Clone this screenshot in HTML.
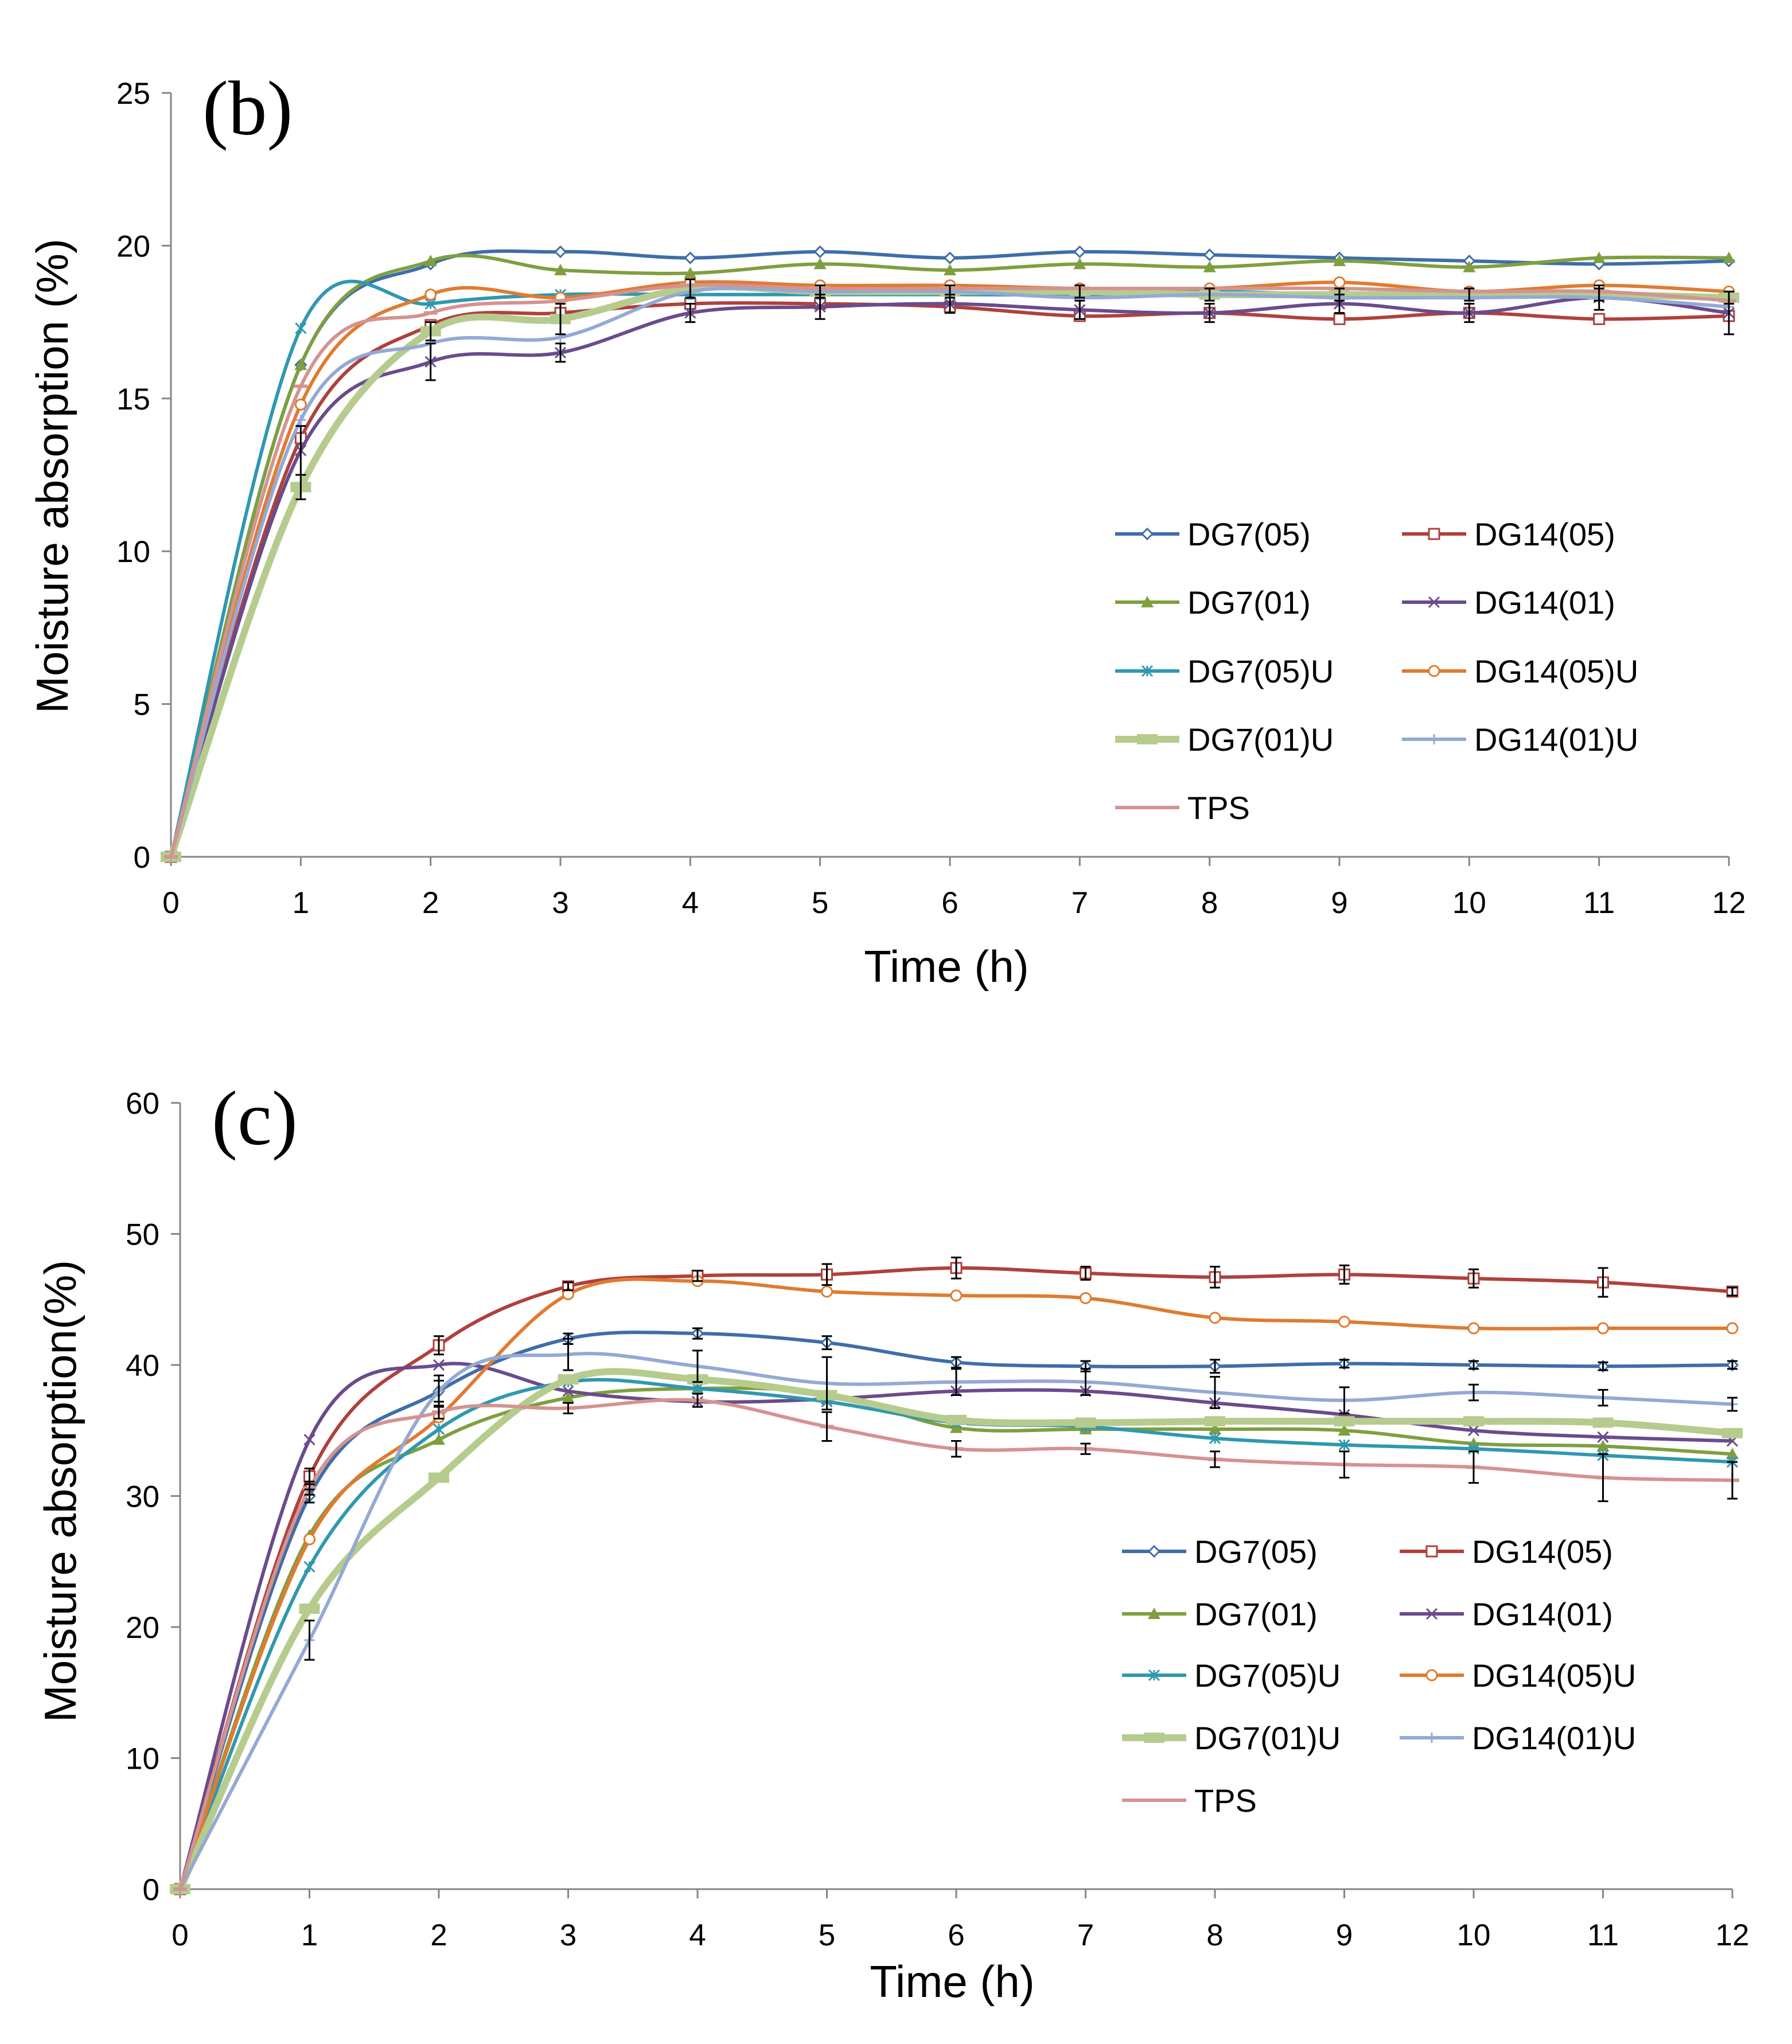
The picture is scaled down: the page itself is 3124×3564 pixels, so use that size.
<!DOCTYPE html>
<html><head><meta charset="utf-8"><style>
html,body{margin:0;padding:0;background:#fff;}
svg{display:block;font-family:"Liberation Sans",sans-serif;}
</style></head><body>
<svg id="chart" xmlns="http://www.w3.org/2000/svg" width="3124" height="3564" viewBox="0 0 3124 3564"></svg>
<script>
const hours = [0,1,2,3,4,5,6,7,8,9,10,11,12];
const seriesNames = ["DG7(05)","DG14(05)","DG7(01)","DG14(01)","DG7(05)U","DG14(05)U","DG7(01)U","DG14(01)U","TPS"];
const bDG705 = [0,16.1,19.4,19.8,19.6,19.8,19.6,19.8,19.7,19.6,19.5,19.4,19.5];
const bDG1405 = [0,13.7,17.4,17.8,18.1,18.1,18.0,17.7,17.8,17.6,17.8,17.6,17.7];
const bDG701 = [0,16.1,19.5,19.2,19.1,19.4,19.2,19.4,19.3,19.5,19.3,19.6,19.6];
const bDG1401 = [0,13.3,16.2,16.5,17.8,18.0,18.1,17.9,17.8,18.1,17.8,18.3,17.8];
const bDG705U = [0,17.3,18.1,18.4,18.4,18.4,18.4,18.4,18.5,18.4,18.4,18.4,18.3];
const bDG1405U = [0,14.8,18.4,18.3,18.8,18.7,18.7,18.6,18.6,18.8,18.5,18.7,18.5];
const bDG701U = [0,12.1,17.2,17.6,18.6,18.5,18.5,18.5,18.4,18.4,18.4,18.4,18.3];
const bDG1401U = [0,14.3,16.8,17.0,18.5,18.5,18.5,18.3,18.4,18.3,18.3,18.3,18.0];
const bTPS = [0,15.4,17.8,18.2,18.7,18.6,18.6,18.6,18.6,18.6,18.5,18.5,18.2];
const cDG705 = [0,30,38,42,42.4,41.7,40.2,39.9,39.9,40.1,40,39.9,40];
const cDG1405 = [0,31.5,41.5,46,46.8,46.9,47.4,47,46.7,46.9,46.6,46.3,45.6];
const cDG701 = [0,27,34.3,37.5,38.2,37.8,35.2,35.1,35.1,35,34,33.8,33.2];
const cDG1401 = [0,34.3,40,38,37.2,37.4,38,38,37.1,36.2,35,34.5,34.2];
const cDG705U = [0,24.6,35.1,38.7,38.2,37.2,35.6,35.3,34.4,33.9,33.6,33.1,32.6];
const cDG1405U = [0,26.7,36,45.4,46.4,45.6,45.3,45.1,43.6,43.3,42.8,42.8,42.8];
const cDG701U = [0,21.4,31.4,38.9,38.9,37.7,35.8,35.6,35.7,35.7,35.7,35.6,34.8];
const cDG1401U = [0,19,38,40.8,39.9,38.6,38.7,38.7,37.9,37.3,37.9,37.5,37];
const cTPS = [0,30.6,36.4,36.7,37.3,35.3,33.6,33.6,32.8,32.4,32.2,31.4,31.2];
// error magnitudes (±) for selected series
const bErrDG1401 = [0,0.8,0.6,0.3,0.3,0.4,0.3,0.3,0.3,0.3,0.3,0.4,0.7];
const bErrDG701U = [0,0.4,0.3,0.5,0.3,0.2,0.2,0.2,0.2,0.2,0.2,0.2,0.2];
const cErrDG1405 = [0,0.6,0.7,0.3,0.4,0.8,0.8,0.5,0.8,0.7,0.7,1.1,0.3];
const cErrDG705 = [0,0.5,0.8,0.4,0.4,0.5,0.4,0.4,0.5,0.3,0.3,0.3,0.3];
const cErrDG1401U = [0,1.5,1.2,1.2,1.2,2.0,1.0,1.0,1.2,1.0,0.6,0.6,0.5];
const cErrTPS = [0,0.5,0.5,0.4,0.5,1.1,0.6,0.4,0.6,1.0,1.2,1.8,1.4];
const bTicks = [0,5,10,15,20,25];
const cTicks = [0,10,20,30,40,50,60];

const colors = ["#3f6ea8","#b0403c","#7f9f3f","#6a4b8c","#2f98b0","#e07b30","#b5cc8e","#94a9d4","#d49390"];
const markers = ["diamond","square","triangle","x","star","circle","bar","plus","dash"];
const widths = [6,6,6,6,6,6,12,6,6];
const NS="http://www.w3.org/2000/svg";
const svg=document.getElementById('chart');
function el(tag,attrs,parent){const e=document.createElementNS(NS,tag);for(const k in attrs)e.setAttribute(k,attrs[k]);(parent||svg).appendChild(e);return e;}

function smoothPath(pts){
  let d=`M${pts[0][0]},${pts[0][1]}`;
  for(let i=0;i<pts.length-1;i++){
    const p0=pts[Math.max(0,i-1)],p1=pts[i],p2=pts[i+1],p3=pts[Math.min(pts.length-1,i+2)];
    const t=1/6;
    const c1=[p1[0]+(p2[0]-p0[0])*t,p1[1]+(p2[1]-p0[1])*t];
    const c2=[p2[0]-(p3[0]-p1[0])*t,p2[1]-(p3[1]-p1[1])*t];
    d+=` C${c1[0]},${c1[1]} ${c2[0]},${c2[1]} ${p2[0]},${p2[1]}`;
  }
  return d;
}
function marker(g,type,x,y,c){
  const s=9;
  let m;
  if(type==="diamond")m=el('polygon',{points:`${x},${y-s} ${x+s},${y} ${x},${y+s} ${x-s},${y}`,fill:"#fff",stroke:c,"stroke-width":3},g);
  else if(type==="square")m=el('rect',{x:x-s,y:y-s,width:2*s,height:2*s,fill:"#fff",stroke:c,"stroke-width":3},g);
  else if(type==="triangle")m=el('polygon',{points:`${x},${y-s-2} ${x+s+2},${y+s} ${x-s-2},${y+s}`,fill:c},g);
  else if(type==="x")m=el('path',{d:`M${x-s},${y-s}L${x+s},${y+s}M${x-s},${y+s}L${x+s},${y-s}`,stroke:c,"stroke-width":3},g);
  else if(type==="star")m=el('path',{d:`M${x-s},${y-s}L${x+s},${y+s}M${x-s},${y+s}L${x+s},${y-s}M${x},${y-s}L${x},${y+s}`,stroke:c,"stroke-width":3},g);
  else if(type==="circle")m=el('circle',{cx:x,cy:y,r:s,fill:"#fff",stroke:c,"stroke-width":3},g);
  else if(type==="bar")m=el('rect',{x:x-18,y:y-9,width:36,height:18,fill:c},g);
  else if(type==="plus")m=el('path',{d:`M${x-s},${y}L${x+s},${y}M${x},${y-s}L${x},${y+s}`,stroke:c,"stroke-width":3},g);
  else m=el('rect',{x:x-12,y:y-3,width:24,height:6,fill:c},g);
  
  
}

function panel(cfg){
  const {x0,x1,y0,y1,ymax,ticks,data,errs,label,ytitle,ytx,yty,xtx,xty,tickY,legX,legRows,pfx}=cfg;
  const sx=v=>x0+(x1-x0)*v/12, sy=v=>y0-(y0-y1)*v/ymax;
  const g=el('g',{});
  const ax=el('g',{},g);
  
  el('line',{x1:x0,y1:y0,x2:x0,y2:y1,stroke:"#868686","stroke-width":3},ax);
  el('line',{x1:x0,y1:y0,x2:x1,y2:y0,stroke:"#868686","stroke-width":3},ax);
  ticks.forEach(t=>{
    el('line',{x1:x0-16,y1:sy(t),x2:x0,y2:sy(t),stroke:"#868686","stroke-width":3},ax);
    const tx=el('text',{x:x0-36,y:sy(t)+19,"text-anchor":"end","font-size":53,fill:"#000"},ax);
    tx.textContent=t;
    
  });
  hours.forEach(h=>{
    el('line',{x1:sx(h),y1:y0,x2:sx(h),y2:y0+16,stroke:"#868686","stroke-width":3},ax);
    const tx=el('text',{x:sx(h),y:tickY,"text-anchor":"middle","font-size":53,fill:"#000"},ax);
    tx.textContent=h;
    
  });
  const yt=el('text',{x:ytx,y:yty,"text-anchor":"middle","font-size":78,fill:"#000",transform:`rotate(-90 ${ytx} ${yty})`},g);
  yt.textContent=ytitle;
  const xt=el('text',{x:xtx,y:xty,"text-anchor":"middle","font-size":78,fill:"#000"},g);
  xt.textContent="Time (h)";
  const pl=el('text',{x:x0+55,y:y1+72,"font-size":135,"font-family":"Liberation Serif, serif",fill:"#000"},g);
  pl.textContent=label;
  data.forEach((vals,i)=>{
    const sg=el('g',{},g);
    
    
    const pts=vals.map((v,j)=>[sx(hours[j]),sy(v)]);
    el('path',{d:smoothPath(pts),fill:"none",stroke:colors[i],"stroke-width":widths[i]},sg);
    pts.forEach(p=>marker(sg,markers[i],p[0],p[1],colors[i]));
  });
  errs.forEach(([si,ev])=>{
    const eg=el('g',{},g);
    
    
    ev.forEach((e,j)=>{
      if(!e)return;
      const x=sx(hours[j]),v=data[si][j];
      const ya=sy(v+e),yb=sy(v-e);
      el('path',{d:`M${x},${ya}L${x},${yb}M${x-9},${ya}L${x+9},${ya}M${x-9},${yb}L${x+9},${yb}`,stroke:"#000","stroke-width":3,fill:"none"},eg);
    });
  });
  seriesNames.forEach((n,i)=>{
    const col=i%2, row=Math.floor(i/2);
    const lx=legX[col], ly=legRows[row];
    const lg=el('g',{},g);
    
    
    el('line',{x1:lx,y1:ly,x2:lx+112,y2:ly,stroke:colors[i],"stroke-width":widths[i]},lg);
    marker(lg,markers[i],lx+56,ly,colors[i]);
    const t=el('text',{x:lx+126,y:ly+20,"font-size":56,fill:"#000"},lg);
    t.textContent=n;
  });
}
panel({x0:298,x1:3014,y0:1494,y1:162,ymax:25,ticks:bTicks,
  data:[bDG705,bDG1405,bDG701,bDG1401,bDG705U,bDG1405U,bDG701U,bDG1401U,bTPS],
  errs:[[3,bErrDG1401],[6,bErrDG701U]],
  label:"(b)",ytitle:"Moisture absorption (%)",ytx:118,yty:830,xtx:1650,xty:1712,tickY:1592,
  legX:[1944,2444],legRows:[931,1050,1170,1289,1408],pfx:"panel-b"});
panel({x0:314,x1:3020,y0:3294,y1:1923,ymax:60,ticks:cTicks,
  data:[cDG705,cDG1405,cDG701,cDG1401,cDG705U,cDG1405U,cDG701U,cDG1401U,cTPS],
  errs:[[1,cErrDG1405],[0,cErrDG705],[7,cErrDG1401U],[8,cErrTPS]],
  label:"(c)",ytitle:"Moisture absorption(%)",ytx:132,yty:2600,xtx:1660,xty:3482,tickY:3392,
  legX:[1956,2440],legRows:[2705,2814,2921,3030,3139],pfx:"panel-c"});
</script>
</body></html>
